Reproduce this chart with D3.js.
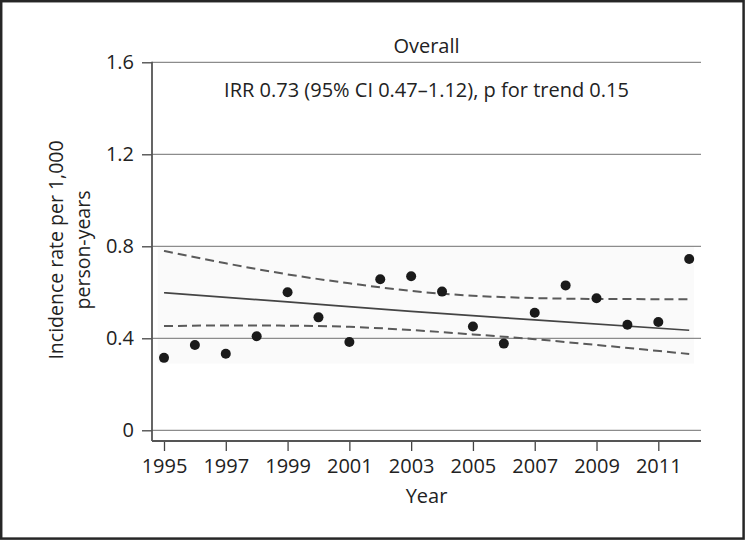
<!DOCTYPE html>
<html>
<head>
<meta charset="utf-8">
<script src="https://cdn.jsdelivr.net/npm/d3@7"></script>
<style>
  html, body { margin: 0; padding: 0; background: #fff; }
  svg { display: block; font-family: "Open Sans", "Noto Sans", sans-serif; }
</style>
</head>
<body>
<svg id="chart" width="745" height="540"></svg>
<script>
// ---- data ----
const years = [1995,1996,1997,1998,1999,2000,2001,2002,2003,2004,2005,2006,2007,2008,2009,2010,2011,2012];
const rates = [0.315,0.371,0.333,0.409,0.600,0.491,0.384,0.657,0.670,0.603,0.451,0.377,0.511,0.630,0.574,0.459,0.471,0.745];

const fitYears = [1995,1999,2003,2007,2012];
const fitValues = [0.598,0.558,0.517,0.480,0.435];

const ciYears = [1995,1997,1999,2001,2003,2005,2007,2009,2012];
const ciUpper = [0.780,0.726,0.678,0.639,0.606,0.585,0.575,0.571,0.570];
const ciLower = [0.453,0.456,0.455,0.450,0.436,0.417,0.396,0.371,0.332];

const yTicks = [0, 0.4, 0.8, 1.2, 1.6];
const yTickLabels = ["0", "0.4", "0.8", "1.2", "1.6"];
const xTicks = [1995,1997,1999,2001,2003,2005,2007,2009,2011];

const titleText = "Overall";
const statText = "IRR 0.73 (95% CI 0.47\u20131.12), p for trend 0.15";
const yLabelLines = ["Incidence rate per 1,000", "person-years"];
const xLabelText = "Year";

// ---- layout ----
const svg = d3.select("#chart");
const W = 745, H = 540;
const plotLeft = 152, plotRight = 701, axisY = 441;

const x = d3.scaleLinear().domain([1995, 2012]).range([164, 689.2]);
const y = d3.scaleLinear().domain([0, 1.6]).range([430.3, 62.3]);

// outer frame
svg.append("rect")
  .attr("x", 1.2).attr("y", 1.2)
  .attr("width", W - 2.6).attr("height", H - 2.6)
  .attr("fill", "none").attr("stroke", "#262626").attr("stroke-width", 2.5);

// faint shaded band
svg.append("rect")
  .attr("x", x(1994.8)).attr("y", y(0.8))
  .attr("width", x(2012.15) - x(1994.8))
  .attr("height", y(0.29) - y(0.8))
  .attr("fill", "#fafafa");

// gridlines
svg.append("g").selectAll("line").data(yTicks).join("line")
  .attr("x1", plotLeft).attr("x2", plotRight)
  .attr("y1", d => y(d)).attr("y2", d => y(d))
  .attr("stroke", "#8c8c8c").attr("stroke-width", 1.2);

// y axis
const yAxis = d3.axisLeft(y)
  .tickValues(yTicks)
  .tickSize(10)
  .tickPadding(8)
  .tickFormat((d, i) => yTickLabels[i]);
const gy = svg.append("g").attr("transform", `translate(${plotLeft},0)`).call(yAxis);
gy.select(".domain").remove();
gy.selectAll(".tick line").attr("stroke", "#444").attr("stroke-width", 1.3);
gy.selectAll(".tick text").attr("font-size", 20).attr("fill", "#222")
  .attr("font-family", "'Open Sans', sans-serif");

// x axis
const xAxis = d3.axisBottom(x)
  .tickValues(xTicks)
  .tickSize(10)
  .tickPadding(8)
  .tickFormat(d3.format("d"));
const gx = svg.append("g").attr("transform", `translate(0,${axisY})`).call(xAxis);
gx.select(".domain").remove();
gx.selectAll(".tick line").attr("stroke", "#444").attr("stroke-width", 1.3);
gx.selectAll(".tick text").attr("font-size", 20).attr("fill", "#222")
  .attr("font-family", "'Open Sans', sans-serif");

// axis lines
svg.append("line")
  .attr("x1", plotLeft).attr("x2", plotLeft)
  .attr("y1", y(1.6) - 0.5).attr("y2", axisY)
  .attr("stroke", "#555").attr("stroke-width", 1.8);
svg.append("line")
  .attr("x1", plotLeft).attr("x2", plotRight)
  .attr("y1", axisY).attr("y2", axisY)
  .attr("stroke", "#555").attr("stroke-width", 1.8);

// CI dashed lines
const line = d3.line().curve(d3.curveMonotoneX);
svg.append("path")
  .attr("d", line(ciYears.map((yr, i) => [x(yr), y(ciUpper[i])])))
  .attr("fill", "none").attr("stroke", "#5a5a5a").attr("stroke-width", 2)
  .attr("stroke-dasharray", "9,5");
svg.append("path")
  .attr("d", line(ciYears.map((yr, i) => [x(yr), y(ciLower[i])])))
  .attr("fill", "none").attr("stroke", "#5a5a5a").attr("stroke-width", 2)
  .attr("stroke-dasharray", "9,5");

// fitted line
svg.append("path")
  .attr("d", line(fitYears.map((yr, i) => [x(yr), y(fitValues[i])])))
  .attr("fill", "none").attr("stroke", "#444").attr("stroke-width", 1.7);

// points
svg.append("g").selectAll("circle").data(years).join("circle")
  .attr("cx", d => x(d))
  .attr("cy", (d, i) => y(rates[i]))
  .attr("r", 5)
  .attr("fill", "#1a1a1a");

// texts
svg.append("text")
  .attr("x", 426.5).attr("y", 53.3)
  .attr("text-anchor", "middle")
  .attr("font-size", 20).attr("fill", "#222")
  .text(titleText);

svg.append("text")
  .attr("x", 426.5).attr("y", 96.5)
  .attr("text-anchor", "middle")
  .attr("font-size", 20).attr("fill", "#222")
  .text(statText);

svg.append("text")
  .attr("x", 426.5).attr("y", 503)
  .attr("text-anchor", "middle")
  .attr("font-size", 20).attr("fill", "#222")
  .text(xLabelText);

const yl = svg.append("text")
  .attr("transform", "translate(0,250) rotate(-90)")
  .attr("text-anchor", "middle")
  .attr("font-size", 19.5).attr("fill", "#222");
yl.selectAll("tspan").data(yLabelLines).join("tspan")
  .attr("x", 0)
  .attr("y", (d, i) => i === 0 ? 63 : 90)
  .text(d => d);
</script>
</body>
</html>
